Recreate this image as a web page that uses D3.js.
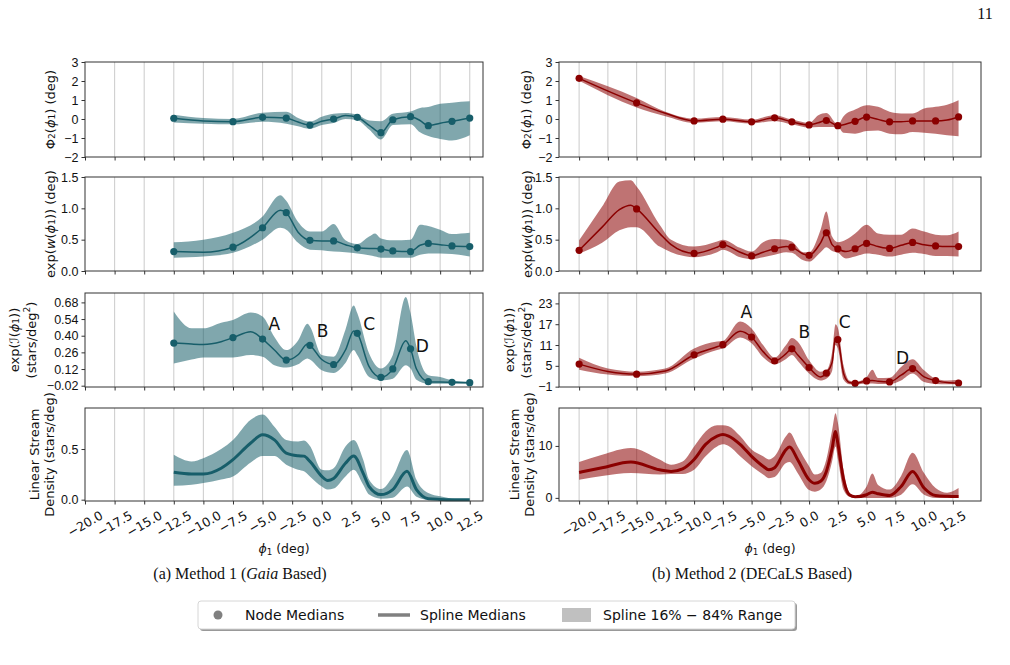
<!DOCTYPE html>
<html>
<head>
<meta charset="utf-8">
<script src="https://cdn.jsdelivr.net/npm/d3@7"></script>
<style>
  body { margin: 0; background: #fff; }
  svg { display: block; font-family: "DejaVu Sans", sans-serif; }
  text { fill: #111; }
</style>
</head>
<body>
<svg id="fig" width="1010" height="665"></svg>
<script>
// ---- x ticks shared by every panel
const xTicks = [-20, -17.5, -15, -12.5, -10, -7.5, -5, -2.5, 0, 2.5, 5, 7.5, 10, 12.5];

// ---- Method 1 (Gaia) : node medians
const leftNodeX = [-12.5, -7.5, -5, -3, -1, 1, 3, 5, 6, 7.5, 9, 11, 12.5];
const leftPhi2Node = [0.04, -0.14, 0.09, 0.05, -0.32, 0.0, 0.09, -0.72, -0.04, 0.12, -0.35, -0.12, 0.05];
const leftWNode = [0.31, 0.38, 0.69, 0.93, 0.49, 0.48, 0.37, 0.35, 0.32, 0.31, 0.44, 0.40, 0.39];
const leftINode = [0.338, 0.384, 0.372, 0.195, 0.319, 0.158, 0.42, 0.05, 0.121, 0.29, 0.014, 0.008, 0.005];

// ---- Method 1 splines (median, 16%, 84%)
const lPhi2X = [-12.5, -10, -7.5, -5, -3, -2, -1, 0, 1, 2, 3, 4, 5, 6, 7.5, 8.3, 9, 10, 11, 12.5];
const lPhi2Med = [0.04, -0.10, -0.14, 0.09, 0.05, -0.16, -0.32, -0.12, 0.0, 0.18, 0.09, -0.33, -0.72, -0.04, 0.12, -0.08, -0.35, -0.22, -0.12, 0.05];
const lPhi2Hi = [0.23, 0.05, 0.0, 0.33, 0.38, 0.05, -0.14, 0.12, 0.28, 0.32, 0.22, -0.08, -0.12, 0.28, 0.40, 0.58, 0.63, 0.80, 0.86, 0.93];
const lPhi2Lo = [-0.18, -0.25, -0.28, -0.15, -0.25, -0.38, -0.52, -0.32, -0.21, 0.0, -0.06, -0.55, -1.08, -0.32, -0.27, -0.70, -0.90, -1.05, -1.13, -0.86];

const lWX = [-12.5, -10, -7.5, -5, -3.5, -3, -2, -1, 0, 1, 2, 3, 4, 4.5, 5, 6, 7.5, 8.3, 9, 10, 11, 12.5];
const lWMed = [0.31, 0.30, 0.38, 0.69, 0.97, 0.93, 0.62, 0.49, 0.48, 0.48, 0.42, 0.37, 0.36, 0.36, 0.35, 0.32, 0.31, 0.41, 0.44, 0.42, 0.40, 0.39];
const lWHi = [0.46, 0.50, 0.61, 0.87, 1.21, 1.12, 0.78, 0.63, 0.63, 0.75, 0.49, 0.43, 0.55, 0.60, 0.52, 0.49, 0.50, 0.74, 0.72, 0.66, 0.59, 0.61];
const lWLo = [0.21, 0.23, 0.29, 0.50, 0.69, 0.66, 0.45, 0.34, 0.33, 0.31, 0.30, 0.28, 0.25, 0.23, 0.21, 0.21, 0.21, 0.26, 0.28, 0.28, 0.27, 0.23];

const lIX = [-12.5, -11, -10, -8.5, -7.5, -6, -5, -4, -3, -2, -1.2, -1, 0, 1, 2, 2.7, 3, 4, 5, 6, 7.1, 7.5, 8, 9, 10, 11, 12.5];
const lIMed = [0.338, 0.33, 0.327, 0.35, 0.384, 0.434, 0.372, 0.28, 0.195, 0.24, 0.33, 0.319, 0.20, 0.158, 0.28, 0.44, 0.42, 0.14, 0.05, 0.121, 0.358, 0.29, 0.12, 0.014, 0.01, 0.008, 0.005];
const lIHi = [0.604, 0.463, 0.463, 0.51, 0.533, 0.595, 0.561, 0.39, 0.279, 0.36, 0.50, 0.477, 0.237, 0.223, 0.45, 0.655, 0.59, 0.25, 0.124, 0.237, 0.725, 0.59, 0.307, 0.068, 0.053, 0.025, 0.011];
const lILo = [0.166, 0.20, 0.217, 0.217, 0.217, 0.237, 0.223, 0.152, 0.132, 0.16, 0.209, 0.20, 0.11, 0.087, 0.17, 0.279, 0.237, 0.053, 0.025, 0.039, 0.152, 0.124, 0.03, -0.003, -0.003, -0.003, -0.003];

const lDX = [-12.5, -11, -10, -8.5, -7.5, -6, -5, -4, -3, -2, -1.5, -1, 0, 0.5, 1, 2, 2.7, 3.5, 4, 5, 6, 7.2, 8, 9, 10, 11, 12.5];
const lDMed = [0.27, 0.253, 0.253, 0.31, 0.395, 0.56, 0.64, 0.59, 0.46, 0.434, 0.43, 0.378, 0.23, 0.19, 0.21, 0.36, 0.43, 0.26, 0.13, 0.05, 0.10, 0.28, 0.10, 0.01, 0.003, 0.0, 0.0];
const lDHi = [0.444, 0.378, 0.41, 0.50, 0.59, 0.79, 0.84, 0.72, 0.59, 0.575, 0.585, 0.53, 0.296, 0.29, 0.31, 0.526, 0.59, 0.395, 0.197, 0.105, 0.23, 0.49, 0.197, 0.066, 0.033, 0.01, 0.0];
const lDLo = [0.138, 0.148, 0.164, 0.20, 0.23, 0.368, 0.43, 0.43, 0.345, 0.296, 0.28, 0.23, 0.13, 0.10, 0.11, 0.23, 0.296, 0.148, 0.05, 0.01, 0.02, 0.13, 0.03, 0.0, 0.0, 0.0, 0.0];

// ---- Method 2 (DECaLS) : node medians
const rightNodeX = [-20, -15, -10, -7.5, -5, -3, -1.5, 0, 1.5, 2.5, 4, 5, 7, 9, 11, 13];
const rightPhi2Node = [2.14, 0.85, -0.10, -0.01, -0.15, 0.06, -0.15, -0.31, -0.08, -0.35, -0.12, 0.10, -0.15, -0.10, -0.10, 0.11];
const rightWNode = [0.33, 0.99, 0.28, 0.42, 0.24, 0.355, 0.38, 0.25, 0.61, 0.355, 0.355, 0.44, 0.36, 0.456, 0.40, 0.39];
const rightINode = [5.5, 2.6, 8.2, 11.1, 13.3, 6.4, 9.9, 4.5, 2.9, 12.6, -0.03, 0.64, 0.35, 4.2, 0.74, 0.06];

// ---- Method 2 splines
const rPhi2X = [-20, -15, -12.5, -10, -7.5, -5, -3, -1.5, 0, 0.8, 1.5, 2.5, 3, 4, 5, 6, 7, 8, 9, 10, 11, 12, 13];
const rPhi2Med = [2.14, 0.85, 0.30, -0.10, -0.01, -0.15, 0.06, -0.15, -0.31, -0.20, -0.08, -0.35, -0.30, -0.12, 0.10, -0.02, -0.15, -0.15, -0.10, -0.10, -0.10, -0.05, 0.11];
const rPhi2Hi = [2.26, 1.11, 0.38, 0.02, 0.11, -0.03, 0.20, -0.03, -0.20, 0.20, 0.32, -0.28, 0.15, 0.50, 0.73, 0.64, 0.38, 0.29, 0.29, 0.55, 0.64, 0.75, 0.99];
const rPhi2Lo = [2.01, 0.61, 0.15, -0.20, -0.12, -0.24, -0.10, -0.28, -0.45, -0.42, -0.42, -0.42, -0.73, -0.77, -0.63, -0.60, -0.77, -0.80, -0.68, -0.72, -0.77, -0.85, -0.91];

const rWX = [-20, -18, -16.5, -15.5, -15, -13, -12, -10, -8, -7.5, -6, -5, -4, -3, -2, -1.5, -0.5, 0, 1, 1.5, 2, 2.5, 3.2, 4, 5, 6, 7, 8, 9, 10, 11, 12, 13];
const rWMed = [0.33, 0.70, 0.98, 1.05, 0.99, 0.60, 0.42, 0.28, 0.38, 0.42, 0.30, 0.24, 0.30, 0.355, 0.39, 0.38, 0.27, 0.25, 0.45, 0.61, 0.42, 0.355, 0.31, 0.355, 0.44, 0.39, 0.36, 0.41, 0.456, 0.42, 0.40, 0.39, 0.39];
const rWHi = [0.49, 1.03, 1.43, 1.45, 1.35, 0.74, 0.50, 0.39, 0.47, 0.50, 0.37, 0.31, 0.46, 0.51, 0.50, 0.47, 0.30, 0.30, 0.66, 0.95, 0.55, 0.46, 0.50, 0.60, 0.74, 0.60, 0.58, 0.58, 0.68, 0.63, 0.58, 0.57, 0.63];
const rWLo = [0.28, 0.45, 0.65, 0.70, 0.70, 0.39, 0.30, 0.22, 0.30, 0.34, 0.22, 0.19, 0.22, 0.26, 0.30, 0.29, 0.17, 0.15, 0.30, 0.38, 0.32, 0.29, 0.20, 0.23, 0.28, 0.26, 0.23, 0.26, 0.29, 0.27, 0.24, 0.24, 0.23];

const rIX = [-20, -17.5, -15, -12.5, -10, -8, -7.5, -6, -5, -4, -3, -2, -1.5, -1, 0, 1, 1.5, 2, 2.3, 2.5, 3, 3.5, 4, 5, 5.5, 6, 7, 8, 9, 10, 11, 12, 13];
const rIMed = [5.5, 3.4, 2.6, 3.5, 8.2, 10.5, 11.1, 15.0, 13.3, 9.1, 6.4, 8.5, 9.9, 8.2, 4.5, 1.8, 2.9, 6.0, 13.2, 12.6, 2.8, 0.2, -0.03, 0.64, 0.8, 0.55, 0.35, 2.3, 4.2, 1.8, 0.74, 0.2, 0.06];
const rIHi = [7.3, 4.2, 3.3, 4.2, 10.0, 12.0, 12.2, 17.8, 15.8, 11.0, 7.4, 11.0, 13.0, 12.0, 6.6, 3.3, 3.7, 9.0, 17.0, 16.0, 5.2, 0.8, 0.4, 1.8, 3.9, 1.5, 1.6, 4.7, 6.9, 3.7, 1.3, 0.8, 1.0];
const rILo = [3.9, 2.5, 2.0, 2.8, 7.1, 9.6, 10.0, 13.2, 11.5, 7.5, 5.5, 7.0, 8.1, 6.5, 2.8, 0.8, 1.3, 3.5, 11.0, 10.0, 1.0, -0.3, -0.4, -0.1, -0.1, -0.2, -0.2, 0.8, 2.8, 0.35, -0.2, -0.3, -0.3];

const rDX = [-20, -18, -15.5, -13, -12, -11, -10, -9, -8, -7.5, -7, -6, -5, -4, -3.5, -3, -2, -1.7, -1, 0, 0.5, 1, 1.5, 2, 2.3, 2.5, 3, 3.5, 4, 5, 5.5, 6, 7, 8, 9, 10, 11, 12, 13];
const rDMed = [4.9, 5.8, 6.9, 5.4, 5.1, 5.6, 7.4, 10.3, 11.9, 12.2, 11.9, 10.3, 8.0, 6.1, 5.4, 5.8, 9.3, 9.8, 7.4, 3.5, 2.8, 3.2, 5.1, 9.5, 12.8, 10.5, 3.5, 0.6, 0.2, 0.6, 1.1, 0.8, 0.45, 2.2, 5.1, 1.9, 0.45, 0.3, 0.25];
const rDHi = [6.9, 8.3, 9.6, 7.4, 6.4, 7.0, 9.9, 12.8, 14.0, 14.0, 13.8, 11.9, 9.3, 8.0, 7.4, 8.0, 11.9, 12.6, 9.9, 6.1, 4.5, 4.8, 7.4, 13.0, 16.3, 14.5, 5.4, 1.0, 0.3, 2.2, 4.7, 2.5, 1.6, 4.2, 8.7, 4.8, 1.9, 1.0, 1.9];
const rDLo = [3.5, 4.2, 4.8, 4.5, 4.6, 4.6, 5.4, 8.0, 9.9, 10.3, 10.0, 8.0, 6.1, 4.5, 3.8, 4.0, 6.7, 6.9, 4.8, 1.5, 1.2, 1.6, 3.2, 7.0, 9.9, 7.5, 1.5, 0.2, 0.0, 0.0, 0.0, 0.0, 0.0, 0.6, 2.6, 0.6, 0.0, 0.0, 0.0];

// ---- stream feature labels
const featNames = ["A", "B", "C", "D"];
const leftFeatX = [-4.0, 0.06, 4.0, 8.5];
const leftFeatY = [0.497, 0.44, 0.497, 0.316];
const rightFeatX = [-5.46, -0.41, 3.1, 8.13];
const rightFeatY = [20.5, 14.7, 17.7, 7.4];

// ---- y ticks
const phi2Ticks = [-2, -1, 0, 1, 2, 3];
const wTicks = [0, 0.5, 1.0, 1.5];
const leftITicks = [-0.02, 0.12, 0.26, 0.40, 0.54, 0.68];
const rightITicks = [-1, 5, 11, 17, 23];
const leftDTicks = [0, 0.5];
const rightDTicks = [0, 10];

const svg = d3.select("#fig");
const minus = s => s.replace("-", "\u2212");

const rows = [[62, 157], [177, 271], [293, 387], [408, 501]];
const cols = {
  left:  { x0: 85, x1: 483, dom: [-20, 13.62], line: "#175e6a", fill: "rgba(23,94,106,0.55)" },
  right: { x0: 559, x1: 981, dom: [-21.75, 14.95], line: "#8b0000", fill: "rgba(139,0,0,0.55)" }
};

// rich text helper: parts = [[text, "n"|"sub"|"sup"|"i"]]
function rich(sel, parts, size) {
  parts.forEach(([t, k]) => {
    const ts = sel.append("tspan").text(t);
    if (k === "sub") ts.attr("font-size", size * 0.7).attr("baseline-shift", "-22%");
    if (k === "sup") ts.attr("font-size", size * 0.7).attr("baseline-shift", "40%");
    if (k === "i") ts.attr("font-style", "italic");
  });
}

function drawPanel(p) {
  const c = cols[p.side];
  const [y0, y1] = rows[p.row];
  const x = d3.scaleLinear().domain(c.dom).range([c.x0, c.x1]);
  const y = d3.scaleLinear().domain(p.ydom).range([y1, y0]);
  const g = svg.append("g");

  // vertical grid
  g.append("g").selectAll("line").data(xTicks.filter(t => x(t) > c.x0 + 1)).join("line")
    .attr("x1", d => x(d)).attr("x2", d => x(d)).attr("y1", y0).attr("y2", y1)
    .attr("stroke", "#cfcfcf").attr("stroke-width", 1.1);

  // band
  const idx = d3.range(p.sx.length);
  const area = d3.area().x(i => x(p.sx[i])).y0(i => y(p.lo[i])).y1(i => y(p.hi[i])).curve(d3.curveMonotoneX);
  g.append("path").datum(idx).attr("d", area).attr("fill", c.fill).attr("stroke", "none");

  // median spline
  const line = d3.line().x(i => x(p.sx[i])).y(i => y(p.med[i])).curve(d3.curveMonotoneX);
  g.append("path").datum(idx).attr("d", line).attr("fill", "none")
    .attr("stroke", c.line).attr("stroke-width", p.lw);

  // nodes
  if (p.nx) {
    g.append("g").selectAll("circle").data(d3.range(p.nx.length)).join("circle")
      .attr("cx", i => x(p.nx[i])).attr("cy", i => y(p.ny[i])).attr("r", 3.6).attr("fill", c.line);
  }

  // frame
  g.append("rect").attr("x", c.x0).attr("y", y0).attr("width", c.x1 - c.x0).attr("height", y1 - y0)
    .attr("fill", "none").attr("stroke", "#333").attr("stroke-width", 1);

  // axes
  const ya = g.append("g").attr("transform", `translate(${c.x0},0)`)
    .call(d3.axisLeft(y).tickValues(p.yticks).tickSize(3.5).tickPadding(3).tickFormat(d => minus(p.yfmt(d))));
  ya.select(".domain").remove();
  ya.selectAll("line").attr("stroke", "#333");
  ya.selectAll("text").attr("font-size", 12.5).style("fill", "#111").attr("font-family", null);

  const xa = g.append("g").attr("transform", `translate(0,${y1})`)
    .call(d3.axisBottom(x).tickValues(xTicks).tickSize(3.5).tickFormat(""));
  xa.select(".domain").remove();
  xa.selectAll("line").attr("stroke", "#333");

  if (p.row === 3) {
    const top = y1 + 8;
    xTicks.forEach(t => {
      const tx = g.append("text").attr("font-size", 12.5).attr("text-anchor", "middle")
        .attr("dominant-baseline", "central").text(minus(t.toFixed(1)));
      const w = tx.node().getComputedTextLength();
      const H = w * 0.5 + 12.5 * 0.95 * 0.866;
      tx.attr("transform", `translate(${x(t)},${top + H / 2}) rotate(-30)`);
    });
    const xl = svg.append("text").attr("x", (c.x0 + c.x1) / 2).attr("y", 553)
      .attr("text-anchor", "middle").attr("font-size", 12.5);
    rich(xl, [["\u03d5", "i"], ["1", "sub"], [" (deg)", "n"]], 12.5);
  }

  // y label
  p.ylab.forEach(([cx, parts]) => {
    const t = svg.append("text").attr("font-size", 13).attr("text-anchor", "middle")
      .attr("dominant-baseline", "central")
      .attr("transform", `translate(${cx},${(y0 + y1) / 2}) rotate(-90)`);
    rich(t, parts, 13);
  });

  // feature letters
  if (p.fx) {
    featNames.forEach((n, i) => {
      svg.append("text").attr("x", x(p.fx[i])).attr("y", y(p.fy[i]))
        .attr("text-anchor", "middle").attr("dominant-baseline", "central")
        .attr("font-size", 17).text(n);
    });
  }
}

const labPhi2 = [["\u03a6", "n"], ["2", "sub"], ["(", "n"], ["\u03d5", "i"], ["1", "sub"], [") (deg)", "n"]];
const labW = [["exp(", "n"], ["w", "i"], ["(", "n"], ["\u03d5", "i"], ["1", "sub"], [")) (deg)", "n"]];
const labI1 = [["exp(", "n"], ["\u2110", "i"], ["(", "n"], ["\u03d5", "i"], ["1", "sub"], ["))", "n"]];
const labI2 = [["(stars/deg", "n"], ["2", "sup"], [")", "n"]];
const labD1 = [["Linear Stream", "n"]];
const labD2 = [["Density (stars/deg)", "n"]];

const f0 = d => d3.format("d")(d);
const f1 = d => d.toFixed(1);
const f2 = d => d.toFixed(2);

// Method 1
drawPanel({ side: "left", row: 0, ydom: [-2, 3], yticks: phi2Ticks, yfmt: f0, lw: 1.5,
  sx: lPhi2X, med: lPhi2Med, lo: lPhi2Lo, hi: lPhi2Hi, nx: leftNodeX, ny: leftPhi2Node, ylab: [[50, labPhi2]] });
drawPanel({ side: "left", row: 1, ydom: [0, 1.5], yticks: wTicks, yfmt: f1, lw: 1.5,
  sx: lWX, med: lWMed, lo: lWLo, hi: lWHi, nx: leftNodeX, ny: leftWNode, ylab: [[50, labW]] });
drawPanel({ side: "left", row: 2, ydom: [-0.031, 0.759], yticks: leftITicks, yfmt: f2, lw: 1.5,
  sx: lIX, med: lIMed, lo: lILo, hi: lIHi, nx: leftNodeX, ny: leftINode,
  ylab: [[14, labI1], [31, labI2]], fx: leftFeatX, fy: leftFeatY });
drawPanel({ side: "left", row: 3, ydom: [-0.013, 0.905], yticks: leftDTicks, yfmt: f1, lw: 3,
  sx: lDX, med: lDMed, lo: lDLo, hi: lDHi, ylab: [[34, labD1], [49, labD2]] });

// Method 2
drawPanel({ side: "right", row: 0, ydom: [-2, 3], yticks: phi2Ticks, yfmt: f0, lw: 1.5,
  sx: rPhi2X, med: rPhi2Med, lo: rPhi2Lo, hi: rPhi2Hi, nx: rightNodeX, ny: rightPhi2Node, ylab: [[526, labPhi2]] });
drawPanel({ side: "right", row: 1, ydom: [0, 1.5], yticks: wTicks, yfmt: f1, lw: 1.5,
  sx: rWX, med: rWMed, lo: rWLo, hi: rWHi, nx: rightNodeX, ny: rightWNode, ylab: [[527, labW]] });
drawPanel({ side: "right", row: 2, ydom: [-1.1, 26], yticks: rightITicks, yfmt: f0, lw: 1.5,
  sx: rIX, med: rIMed, lo: rILo, hi: rIHi, nx: rightNodeX, ny: rightINode,
  ylab: [[509, labI1], [526, labI2]], fx: rightFeatX, fy: rightFeatY });
drawPanel({ side: "right", row: 3, ydom: [-0.6, 17.3], yticks: rightDTicks, yfmt: f0, lw: 3,
  sx: rDX, med: rDMed, lo: rDLo, hi: rDHi, ylab: [[514, labD1], [529, labD2]] });

// captions (serif, set through style so it wins over the svg default)
const serif = "'Liberation Serif', 'DejaVu Serif', serif";
const capA = svg.append("text").attr("x", 240).attr("y", 579).attr("text-anchor", "middle")
  .attr("font-size", 16).style("font-family", serif);
rich(capA, [["(a) Method 1 (", "n"], ["Gaia", "i"], [" Based)", "n"]], 16);
svg.append("text").attr("x", 752).attr("y", 579).attr("text-anchor", "middle")
  .attr("font-size", 16).style("font-family", serif).text("(b) Method 2 (DECaLS Based)");
svg.append("text").attr("x", 985).attr("y", 19).attr("text-anchor", "middle")
  .attr("font-size", 16).style("font-family", serif).text("11");

// legend
const lg = svg.append("g");
lg.append("rect").attr("x", 200).attr("y", 603).attr("width", 597).attr("height", 28).attr("rx", 3)
  .attr("fill", "#999");
lg.append("rect").attr("x", 198).attr("y", 601).attr("width", 597).attr("height", 28).attr("rx", 3)
  .attr("fill", "#fff").attr("stroke", "#d6d6d6");
lg.append("circle").attr("cx", 218).attr("cy", 615).attr("r", 4.5).attr("fill", "#808080");
lg.append("text").attr("x", 245).attr("y", 620).attr("font-size", 14).text("Node Medians");
lg.append("line").attr("x1", 378).attr("x2", 410).attr("y1", 615).attr("y2", 615)
  .attr("stroke", "#808080").attr("stroke-width", 3.5);
lg.append("text").attr("x", 420).attr("y", 620).attr("font-size", 14).text("Spline Medians");
lg.append("rect").attr("x", 562).attr("y", 608).attr("width", 29).attr("height", 14).attr("fill", "#c0c0c0");
lg.append("text").attr("x", 603).attr("y", 620).attr("font-size", 14).text("Spline 16% \u2212 84% Range");
</script>
</body>
</html>
